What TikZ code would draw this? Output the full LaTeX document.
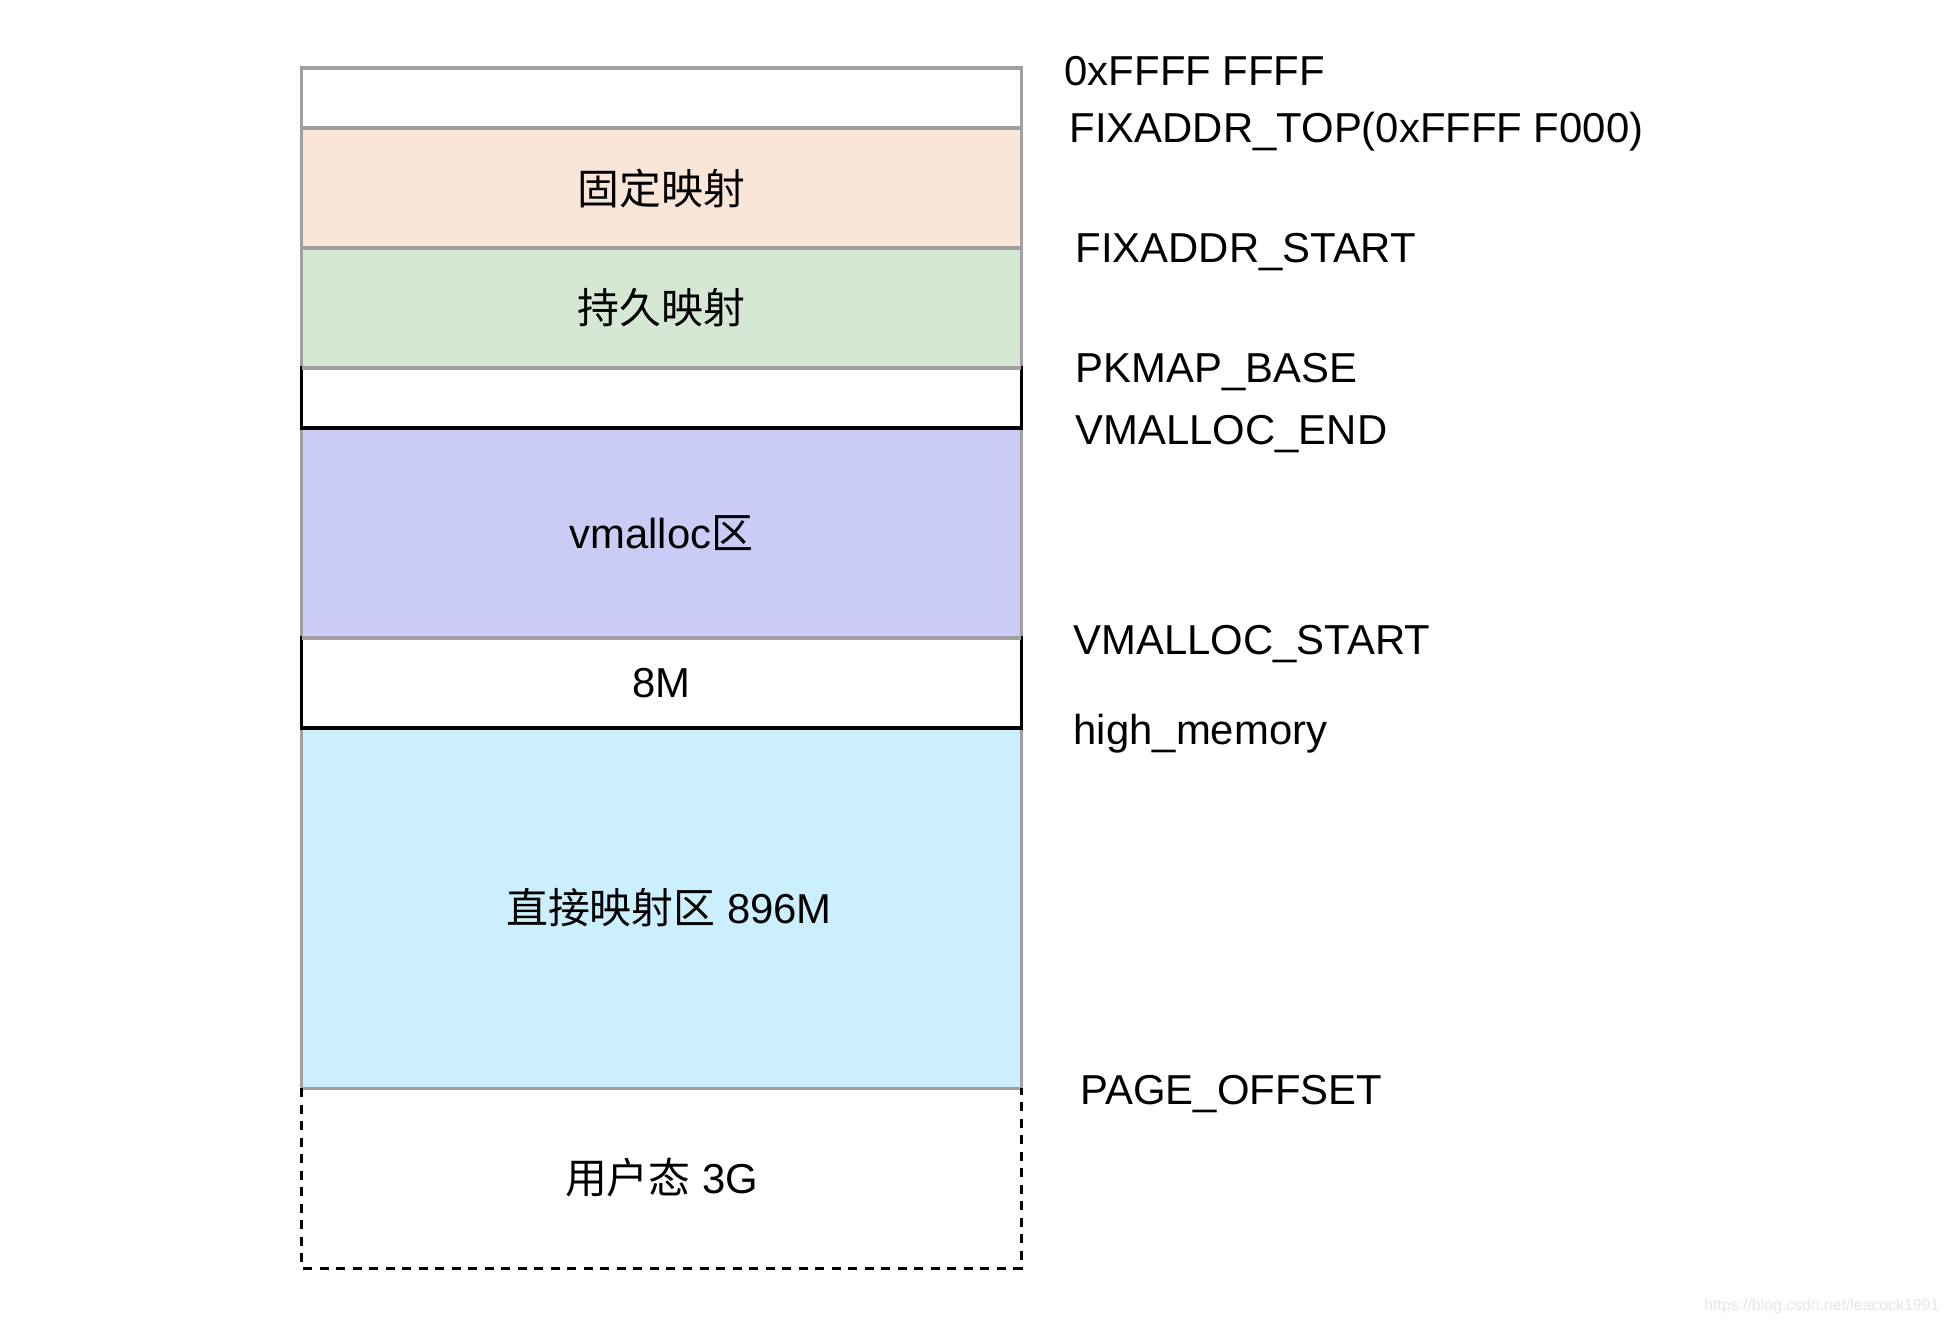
\documentclass[tikz,border=0pt]{standalone}
\usepackage{fontspec}
\setmainfont{Liberation Sans}
\newfontfamily\cjk{Noto Sans CJK SC}
\usetikzlibrary{positioning}

\definecolor{edgegray}{HTML}{A0A0A0}
\definecolor{fixpeach}{HTML}{FAE6D8}
\definecolor{kmapgreen}{HTML}{D5E8D4}
\definecolor{vmpurple}{HTML}{CACCF5}
\definecolor{directcyan}{HTML}{CCEFFD}
\definecolor{wmgray}{HTML}{E6E6E6}

\tikzset{
  membox/.style={rectangle, minimum width=7.19cm, inner sep=0pt, outer sep=0pt, line width=0.9pt, anchor=north},
  grayedge/.style={draw=edgegray},
  grayline/.style={draw=edgegray, line width=0.9pt},
  userdash/.style={draw=black, line width=0.9pt, dash pattern=on 0.09cm off 0.075cm},
  addr/.style={anchor=base west, inner sep=0pt},
}

\begin{document}
\begin{tikzpicture}[x=0.01cm, y=-0.01cm, font=\fontsize{11.9pt}{14pt}\selectfont]
			% Page size of the reference
			\useasboundingbox (0,0) rectangle (1947,1323);
			
			% Kernel space regions with gray edges
			\node[membox, grayedge, fill=white, minimum height=0.6cm] (top) at (661.5,68) {};
			\node[membox, grayedge, fill=fixpeach, minimum height=1.2cm] (fixmap) at (661.5,128) {{\cjk 固定映射}};
			\node[membox, grayedge, fill=kmapgreen, minimum height=1.2cm] (kmap) at (661.5,248) {{\cjk 持久映射}};
			\node[membox, grayedge, fill=vmpurple, minimum height=2.1cm] (vmalloc) at (661.5,428) {vmalloc{\cjk 区}};
			\node[membox, grayedge, fill=directcyan, minimum height=3.6cm] (direct) at (661.5,728) {\hspace*{0.15cm}{\cjk 直接映射区} 896M};
			
			% Gaps with black edges
			\node[membox, draw=black, fill=white, minimum height=0.6cm] (gap) at (661.5,368) {};
			\node[membox, draw=black, fill=white, minimum height=0.9cm] (guard) at (661.5,638) {8M};
			
			% User space, dashed on three sides
			\node[membox, minimum height=1.8cm] (user) at (661.5,1088) {{\cjk 用户态} 3G};
			\draw[userdash] (user.north west) -- (user.south west) -- (user.south east) -- (user.north east);
			
			% Shared top edges stay gray
			\draw[grayline] (gap.north west) -- (gap.north east);
			\draw[grayline] (guard.north west) -- (guard.north east);
			
			% Address labels
			\node[addr] (maxaddr) at (1064,85) {0xFFFF FFFF};
			\node[addr] (fixtop) at (1069,142) {FIXADDR\_TOP(0xFFFF F000)};
			\node[addr] (fixstart) at (1075,262) {FIXADDR\_START};
			\node[addr] (pkmap) at (1075,382) {PKMAP\_BASE};
			\node[addr] (vmend) at (1075,444) {VMALLOC\_END};
			\node[addr] (vmstart) at (1073,654) {VMALLOC\_START};
			\node[addr] (highmem) at (1073,744) {high\_memory};
			\node[addr] (pageoff) at (1080,1104) {PAGE\_OFFSET};
			
			% Watermark
			\node[anchor=base east, inner sep=0pt, text=wmgray, font=\fontsize{4.5pt}{5pt}\selectfont] (wm) at (1940,1310) {https://blog.csdn.net/leacock1991};
			
		\end{tikzpicture}
\end{document}
